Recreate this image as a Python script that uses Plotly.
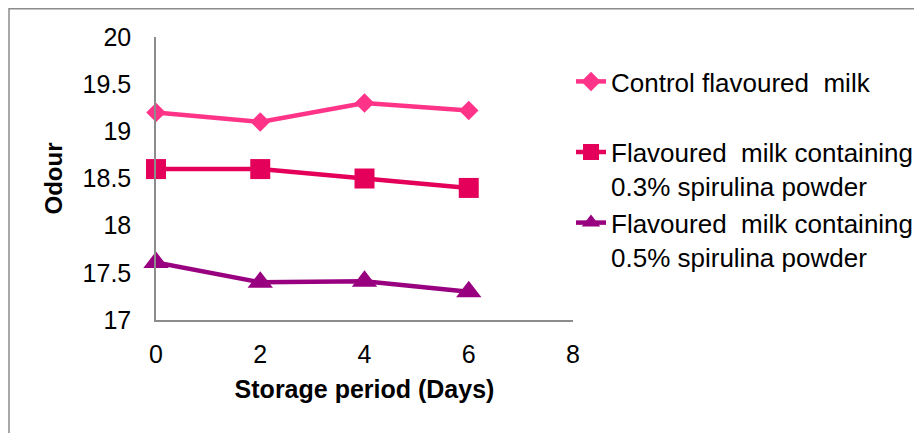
import plotly.graph_objects as go

days = [0, 2, 4, 6]
control = [19.2, 19.1, 19.3, 19.22]
spir03 = [18.6, 18.6, 18.5, 18.4]
spir05 = [17.61, 17.4, 17.41, 17.3]

names = [
    "Control flavoured  milk<br> ",
    "Flavoured  milk containing<br>0.3% spirulina powder",
    "Flavoured  milk containing<br>0.5% spirulina powder",
]
colors = ["#FF3388", "#E4005A", "#990080"]
symbols = ["diamond", "square", "triangle-up"]
msizes = [15, 20, 22]
series = [control, spir03, spir05]

fig = go.Figure()
for i, (vals, nm, c, s, ms) in enumerate(zip(series, names, colors, symbols, msizes)):
    fig.add_trace(go.Scatter(
        x=days, y=vals, mode="lines+markers", name=nm,
        line=dict(color=c, width=4.5),
        marker=dict(symbol=s, size=ms, color=c),
        legendgroup=str(i), cliponaxis=False,
    ))

font = "Liberation Sans, Arial, sans-serif"
L, R, T, B = 148, 565, 29, 312
fig.update_layout(
    width=922, height=433,
    margin=dict(l=L, r=922 - R, t=T, b=433 - B, autoexpand=False),
    paper_bgcolor="white", plot_bgcolor="white",
    font=dict(family=font, size=25, color="black"),
    showlegend=True,
    legend=dict(x=(563 - L) / (R - L), y=(B - 50) / (B - T), xanchor="left", yanchor="top",
                valign="top", tracegroupgap=0, bgcolor="rgba(0,0,0,0)",
                font=dict(size=26, family=font), itemwidth=30),
    xaxis=dict(range=[0, 8], tickvals=[0, 2, 4, 6, 8], showgrid=False,
               zeroline=False, showline=True, linecolor="#8C8C8C", linewidth=1.5,
               ticks="", ticklabelstandoff=11,
               title=dict(text="<b>Storage period (Days)</b>", standoff=14,
                          font=dict(size=25))),
    yaxis=dict(range=[17, 20], tickvals=[17, 17.5, 18, 18.5, 19, 19.5, 20],
               ticktext=["17", "17.5", "18", "18.5", "19", "19.5", "20"],
               showgrid=False, zeroline=False, showline=True,
               linecolor="#8C8C8C", linewidth=1.5, ticks="", ticklabelstandoff=18,
               title=dict(text="<b>Odour</b>", standoff=13, font=dict(size=24))),
    shapes=[dict(type="rect", xref="paper", yref="paper",
                 x0=(1 - L) / (R - L), x1=(940 - L) / (R - L),
                 y0=(B - 450) / (B - T), y1=(B - 0.75) / (B - T),
                 line=dict(color="#8C8C8C", width=1.5), fillcolor="rgba(0,0,0,0)",
                 layer="below")],
)
fig.write_html("out.html")
